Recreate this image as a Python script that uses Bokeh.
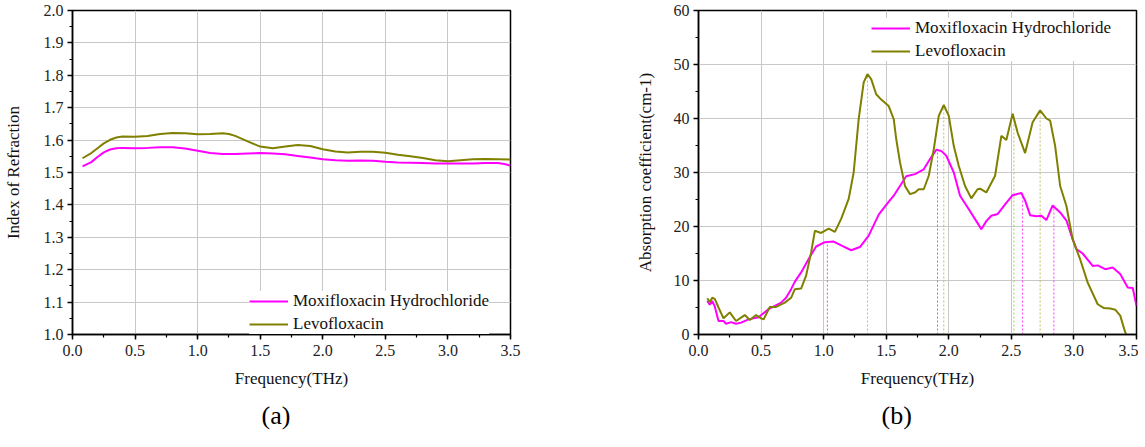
from bokeh.plotting import figure
from bokeh.models import Range1d, SingleIntervalTicker, PrintfTickFormatter, Legend, LegendItem, Title
from bokeh.layouts import row
from bokeh.embed import file_html
from bokeh.resources import INLINE

FONT = "'Liberation Serif', 'Times New Roman', serif"
MAG = "#ff00ff"
OLV = "#808000"

# ---- panel (a): index of refraction ----
freq_a_levo = [0.08, 0.15, 0.2, 0.25, 0.3, 0.35, 0.4, 0.5, 0.6, 0.7, 0.8, 0.9, 1.0, 1.1, 1.2, 1.25,
               1.3, 1.4, 1.5, 1.6, 1.7, 1.8, 1.9, 2.0, 2.1, 2.2, 2.3, 2.4, 2.5, 2.6, 2.7, 2.8, 2.9,
               3.0, 3.1, 3.2, 3.3, 3.4, 3.5]
n_levo = [1.544, 1.560, 1.575, 1.590, 1.601, 1.608, 1.611, 1.610, 1.613, 1.619, 1.622, 1.621, 1.618,
          1.619, 1.621, 1.619, 1.613, 1.596, 1.580, 1.575, 1.580, 1.585, 1.582, 1.572, 1.565, 1.562,
          1.564, 1.564, 1.561, 1.555, 1.550, 1.545, 1.538, 1.535, 1.538, 1.541, 1.542, 1.541, 1.540]
freq_a_moxi = [0.08, 0.15, 0.2, 0.25, 0.3, 0.35, 0.4, 0.5, 0.6, 0.7, 0.8, 0.9, 1.0, 1.1, 1.2, 1.3,
               1.4, 1.5, 1.6, 1.7, 1.8, 1.9, 2.0, 2.1, 2.2, 2.3, 2.4, 2.5, 2.6, 2.7, 2.8, 2.9, 3.0,
               3.1, 3.2, 3.3, 3.4, 3.45, 3.5]
n_moxi = [1.519, 1.532, 1.548, 1.562, 1.571, 1.575, 1.576, 1.575, 1.576, 1.578, 1.578, 1.574, 1.567,
          1.560, 1.557, 1.557, 1.559, 1.560, 1.559, 1.556, 1.551, 1.546, 1.541, 1.538, 1.536, 1.537,
          1.536, 1.533, 1.531, 1.530, 1.529, 1.528, 1.528, 1.528, 1.528, 1.529, 1.529, 1.526, 1.521]

# ---- panel (b): absorption coefficient ----
freq_b_levo = [0.07, 0.09, 0.11, 0.13, 0.16, 0.20, 0.25, 0.30, 0.37, 0.41, 0.46, 0.50, 0.52, 0.57,
               0.62, 0.69, 0.74, 0.77, 0.82, 0.86, 0.90, 0.93, 0.98, 1.04, 1.09, 1.14, 1.20, 1.24,
               1.28, 1.32, 1.35, 1.38, 1.42, 1.46, 1.52, 1.56, 1.58, 1.61, 1.65, 1.69, 1.73, 1.76,
               1.80, 1.84, 1.88, 1.92, 1.96, 2.00, 2.04, 2.08, 2.13, 2.18, 2.23, 2.25, 2.30, 2.37,
               2.42, 2.46, 2.51, 2.55, 2.61, 2.67, 2.73, 2.78, 2.81, 2.85, 2.89, 2.94, 2.99, 3.05,
               3.11, 3.19, 3.24, 3.29, 3.33, 3.37, 3.41, 3.42]
a_levo = [6.7, 6.0, 6.8, 6.6, 5.0, 3.0, 4.1, 2.5, 3.6, 2.7, 3.6, 3.0, 2.8, 5.1,
          5.1, 5.9, 6.8, 8.4, 8.5, 10.9, 15.2, 19.2, 18.8, 19.6, 19.0, 21.4, 25.1, 30.0,
          39.9, 46.7, 48.2, 47.3, 44.5, 43.5, 42.3, 39.9, 36.2, 31.9, 27.5, 26.0, 26.3, 26.9,
          26.9, 29.4, 34.3, 40.5, 42.5, 40.5, 34.9, 31.2, 27.5, 25.2, 26.9, 27.0, 26.3, 29.4,
          36.8, 36.0, 40.9, 37.4, 33.6, 39.3, 41.5, 40.0, 39.6, 34.9, 27.5, 23.8, 17.6, 13.9,
          9.6, 5.6, 4.9, 4.8, 4.6, 3.5, 0.4, 0.0]
freq_b_moxi = [0.07, 0.09, 0.11, 0.13, 0.16, 0.20, 0.22, 0.26, 0.30, 0.34, 0.40, 0.48, 0.56, 0.61,
               0.66, 0.70, 0.74, 0.77, 0.82, 0.88, 0.94, 1.01, 1.08, 1.14, 1.22, 1.29, 1.36, 1.44,
               1.50, 1.56, 1.61, 1.66, 1.73, 1.80, 1.85, 1.90, 1.94, 1.98, 2.04, 2.09, 2.16, 2.22,
               2.26, 2.30, 2.34, 2.39, 2.45, 2.51, 2.58, 2.61, 2.65, 2.70, 2.74, 2.78, 2.83, 2.89,
               2.94, 2.98, 3.02, 3.07, 3.15, 3.19, 3.25, 3.31, 3.37, 3.43, 3.47, 3.50]
a_moxi = [6.2, 5.5, 6.2, 5.2, 2.5, 2.5, 2.0, 2.3, 2.0, 2.2, 2.8, 3.2, 4.7, 5.3,
          5.9, 6.8, 8.4, 9.8, 11.5, 14.0, 16.3, 17.1, 17.2, 16.5, 15.6, 16.2, 18.3, 22.2,
          24.0, 25.7, 27.5, 29.3, 29.7, 30.6, 32.5, 34.2, 34.0, 33.1, 30.0, 25.7, 23.2, 21.0,
          19.5, 21.0, 22.0, 22.3, 24.1, 25.8, 26.2, 24.8, 22.1, 21.9, 22.0, 21.2, 23.9, 22.6,
          21.1, 18.3, 15.8, 15.0, 12.7, 12.8, 12.1, 12.4, 11.2, 8.7, 8.6, 5.3]

peak_f_moxi = [1.03, 1.91, 2.59, 2.84]
peak_a_moxi = [17.2, 34.3, 26.2, 23.9]
peak_f_levo = [1.35, 1.96, 2.52, 2.73]
peak_a_levo = [48.2, 42.5, 40.9, 41.5]

series_names = ["Moxifloxacin Hydrochloride", "Levofloxacin"]
panel_names = ["(a)", "(b)"]
x_ticks_interval = 0.5


def style(p, y_interval, y_fmt):
    p.xaxis.ticker = SingleIntervalTicker(interval=x_ticks_interval, num_minor_ticks=2)
    p.yaxis.ticker = SingleIntervalTicker(interval=y_interval, num_minor_ticks=2)
    p.xaxis.formatter = PrintfTickFormatter(format="%.1f")
    p.yaxis.formatter = PrintfTickFormatter(format=y_fmt)
    for ax in (p.xaxis[0], p.yaxis[0]):
        ax.axis_line_color = "black"
        ax.axis_line_width = 1.5
        ax.major_tick_line_color = "black"
        ax.minor_tick_line_color = "black"
        ax.major_tick_line_width = 1.5
        ax.minor_tick_line_width = 1.2
        ax.major_tick_in = 0
        ax.major_tick_out = 5
        ax.minor_tick_in = 0
        ax.minor_tick_out = 3
        ax.major_label_text_font = FONT
        ax.major_label_text_font_size = "16px"
        ax.major_label_text_color = "#222222"
        ax.axis_label_text_font = FONT
        ax.axis_label_text_font_size = "17px"
        ax.axis_label_text_font_style = "normal"
        ax.axis_label_text_color = "#111111"
    p.xaxis.major_label_standoff = 5
    p.xaxis.axis_label_standoff = 10
    p.yaxis.major_label_standoff = 4
    p.xgrid.grid_line_color = "#c8c8c8"
    p.ygrid.grid_line_color = "#c8c8c8"
    p.xgrid.grid_line_width = 1
    p.ygrid.grid_line_width = 1
    p.outline_line_color = "black"
    p.outline_line_width = 1.5
    p.background_fill_color = "white"
    p.border_fill_color = "white"


def make_legend(p, renderers, loc):
    leg = Legend(items=[LegendItem(label=series_names[i], renderers=[renderers[i]]) for i in range(2)],
                 location=loc)
    leg.label_text_font = FONT
    leg.label_text_font_size = "17px"
    leg.label_text_color = "#111111"
    leg.glyph_width = 39
    leg.glyph_height = 18
    leg.label_height = 18
    leg.label_standoff = 5
    leg.spacing = 3
    leg.padding = 5
    leg.margin = 0
    leg.border_line_color = None
    leg.background_fill_color = "white"
    leg.background_fill_alpha = 1.0
    p.add_layout(leg)


def add_panel_title(p, text, offset):
    t = Title(text=text, align="left", offset=offset, standoff=16,
              text_font=FONT, text_font_size="26px", text_font_style="normal", text_color="black")
    p.add_layout(t, "below")


# ---- figure (a) ----
p1 = figure(frame_width=438, frame_height=324, min_border_left=63, min_border_right=71,
            min_border_top=10, min_border_bottom=97, x_range=Range1d(0, 3.5), y_range=Range1d(1.0, 2.0),
            output_backend="svg", toolbar_location=None, tools="")
style(p1, 0.1, "%.1f")
p1.xaxis.axis_label = "Frequency(THz)"
p1.yaxis.axis_label = "Index of Refraction"
p1.yaxis.axis_label_standoff = 18
r1m = p1.line(freq_a_moxi, n_moxi, line_color=MAG, line_width=2)
r1l = p1.line(freq_a_levo, n_levo, line_color=OLV, line_width=2)
make_legend(p1, [r1m, r1l], (177, 0))
add_panel_title(p1, panel_names[0], 189)

# ---- figure (b) ----
p2 = figure(frame_width=438, frame_height=324, min_border_left=117, min_border_right=2,
            min_border_top=10, min_border_bottom=97, x_range=Range1d(0, 3.5), y_range=Range1d(0, 60),
            output_backend="svg", toolbar_location=None, tools="")
style(p2, 10, "%d")
p2.xaxis.axis_label = "Frequency(THz)"
p2.yaxis.axis_label = "Absorption coefficient(cm-1)"
p2.yaxis.axis_label_standoff = 16
p2.segment(x0=peak_f_moxi, y0=[0] * len(peak_f_moxi), x1=peak_f_moxi, y1=peak_a_moxi,
           line_color=MAG, line_width=1, line_dash="2 2", line_alpha=0.75)
p2.segment(x0=peak_f_levo, y0=[0] * len(peak_f_levo), x1=peak_f_levo, y1=peak_a_levo,
           line_color="#b0b040", line_width=1, line_dash="2 2", line_alpha=0.8)
r2m = p2.line(freq_b_moxi, a_moxi, line_color=MAG, line_width=2)
r2l = p2.line(freq_b_levo, a_levo, line_color=OLV, line_width=2)
make_legend(p2, [r2m, r2l], (173, 273))
add_panel_title(p2, panel_names[1], 183)

layout = row(p1, p2)
open("out.html", "w").write(file_html(layout, INLINE))
